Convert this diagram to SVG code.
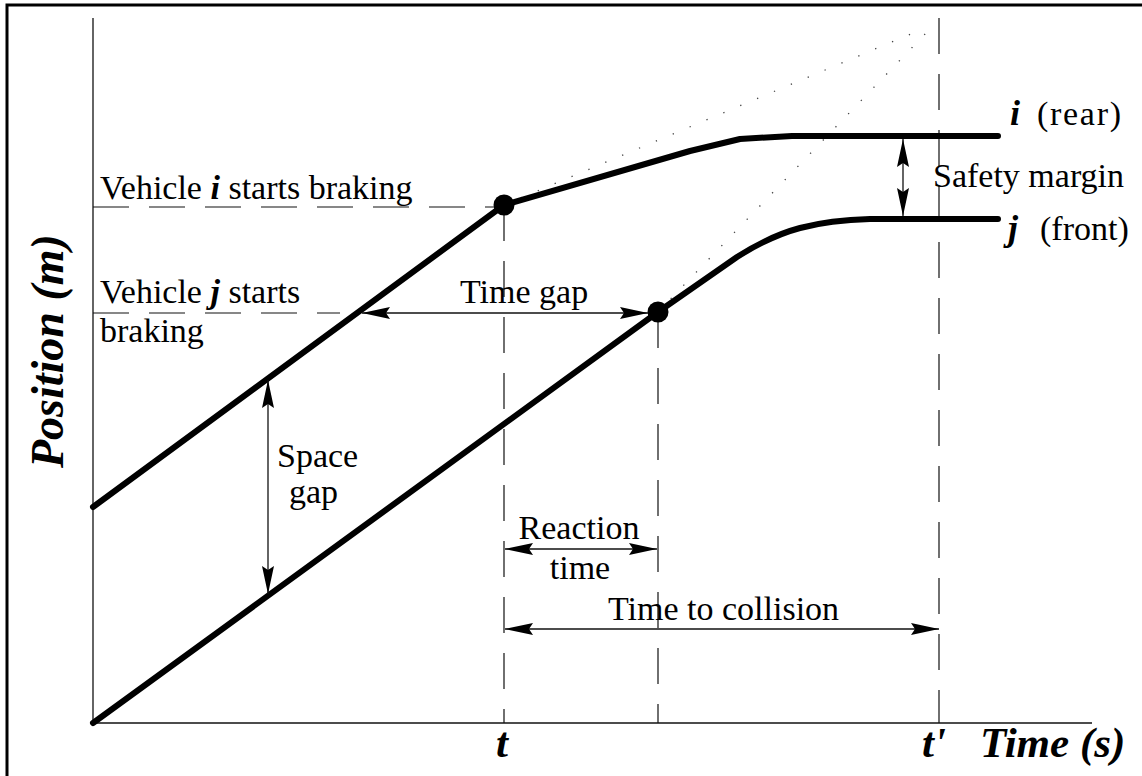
<svg xmlns="http://www.w3.org/2000/svg" width="1142" height="776" viewBox="0 0 1142 776">
  <defs>
    <marker id="ah" markerUnits="userSpaceOnUse" markerWidth="28" markerHeight="12" refX="28" refY="6" orient="auto-start-reverse" viewBox="0 0 28 12">
      <path d="M0,0 L28,6 L0,12 L4,6 z" fill="#000"/>
    </marker>
    <style>
      .thin { stroke:#111; stroke-width:1.3; fill:none; }
      .dash { stroke:#111; stroke-width:1.2; fill:none; stroke-dasharray:36 20; }
      .dot { stroke:#444; stroke-width:1.3; fill:none; stroke-dasharray:1.3 17; }
      .thick { stroke:#000; stroke-width:6; fill:none; stroke-linejoin:round; stroke-linecap:round; }
      .arrow { stroke:#111; stroke-width:1.3; fill:none; marker-start:url(#ah); marker-end:url(#ah); }
      .lbl { font-family:"Liberation Serif","Times New Roman",serif; font-size:34px; fill:#000; }
      .bi { font-family:"Liberation Serif","Times New Roman",serif; font-weight:bold; font-style:italic; fill:#000; }
    </style>
  </defs>
  <rect width="1142" height="776" fill="#fff"/>

  <g id="frame">
    <path d="M7,776 L7,5 L1142,5" stroke="#000" stroke-width="3" fill="none"/>
  </g>

  <g id="axes">
    <line class="thin" x1="93" y1="18" x2="93" y2="723"/>
    <line class="thin" x1="93" y1="723" x2="1092" y2="723"/>
    <text class="bi" font-size="46" transform="translate(63,468) rotate(-90)">Position (m)</text>
    <text class="bi" font-size="43" x="980" y="757">Time (s)</text>
    <text class="bi" font-size="43" x="496" y="757">t</text>
    <text class="bi" font-size="43" x="922" y="757">t'</text>
  </g>

  <g id="guides">
    <line class="dash" x1="93" y1="207" x2="496" y2="207"/>
    <line class="dash" x1="93" y1="313" x2="340" y2="313"/>
    <line class="dash" x1="504" y1="205" x2="504" y2="723"/>
    <line class="dash" x1="658" y1="312" x2="658" y2="723"/>
    <line class="dash" x1="939" y1="18" x2="939" y2="723"/>
    <line class="dot" x1="504" y1="205" x2="925" y2="28"/>
    <line class="dot" x1="658" y1="312" x2="927" y2="32"/>
  </g>

  <g id="vehicle-i">
    <path class="thick" d="M93,507 L504,205 L690,151 L740,139 L792,136 L998,136"/>
    <circle cx="504" cy="205" r="10.5" fill="#000"/>
    <text x="1010" y="125"><tspan class="bi" font-size="36">i</tspan><tspan class="lbl" x="1037" textLength="84">(rear)</tspan></text>
  </g>

  <g id="vehicle-j">
    <path class="thick" d="M93,723 L658,312 L737,257 Q770,236 800,228 Q830,220 870,219 L998,219"/>
    <circle cx="658" cy="312" r="10.5" fill="#000"/>
    <text x="1008" y="240"><tspan class="bi" font-size="36">j</tspan><tspan class="lbl" x="1040">(front)</tspan></text>
  </g>

  <g id="labels">
    <text class="lbl" x="100" y="199">Vehicle <tspan class="bi">i</tspan> starts braking</text>
    <text class="lbl" x="100" y="303">Vehicle <tspan class="bi">j</tspan>  starts</text>
    <text class="lbl" x="100" y="342">braking</text>
    <text class="lbl" x="460" y="303">Time gap</text>
    <text class="lbl" x="277" y="467">Space</text>
    <text class="lbl" x="289" y="503">gap</text>
    <text class="lbl" x="579" y="539" text-anchor="middle">Reaction</text>
    <text class="lbl" x="580" y="579" text-anchor="middle">time</text>
    <text class="lbl" x="608" y="620">Time to collision</text>
    <text class="lbl" x="933" y="187">Safety margin</text>
  </g>

  <g id="connectors">
    <line class="arrow" x1="362" y1="313" x2="648" y2="313"/>
    <line class="arrow" x1="268" y1="380" x2="268" y2="594"/>
    <line class="arrow" x1="903" y1="139" x2="903" y2="216"/>
    <line class="arrow" x1="505" y1="549" x2="657" y2="549"/>
    <line class="arrow" x1="505" y1="629" x2="939" y2="629"/>
  </g>
</svg>
